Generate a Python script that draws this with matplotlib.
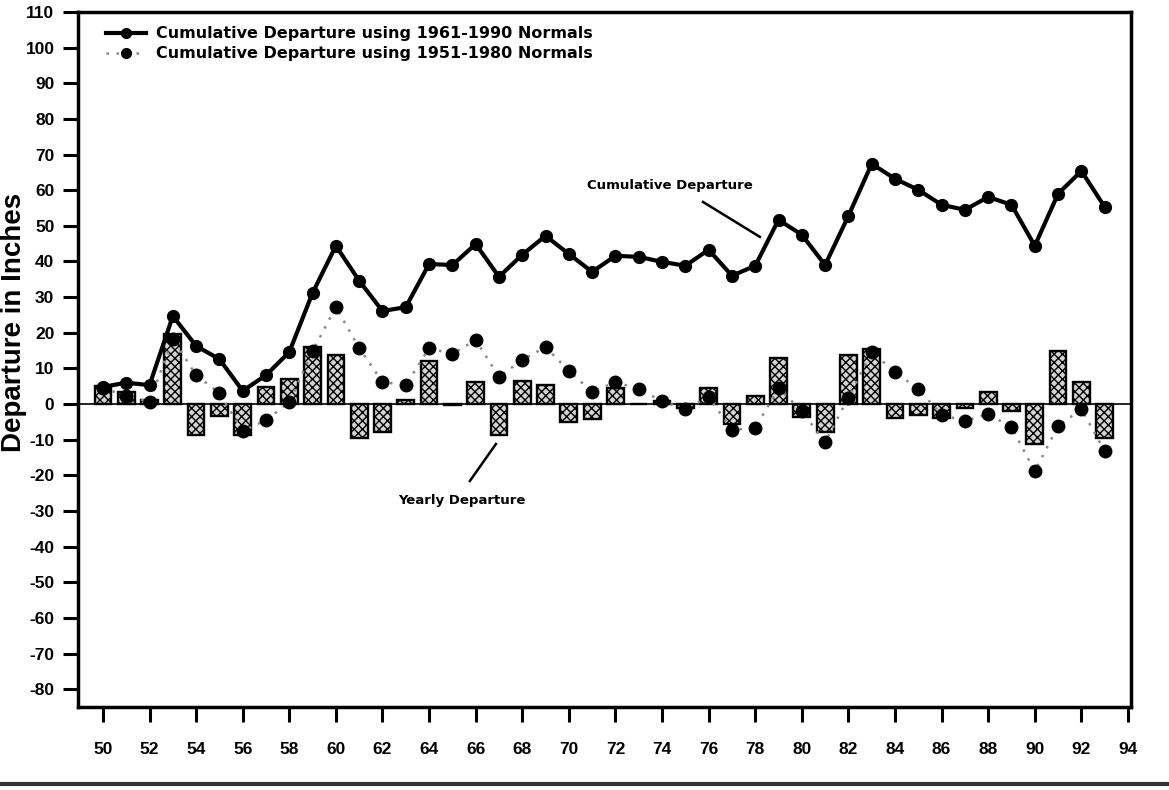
import matplotlib
matplotlib.use("Agg")
import matplotlib.pyplot as plt
from matplotlib.lines import Line2D

plt.rcParams['font.family'] = ['Liberation Sans', 'DejaVu Sans']
plt.rcParams['font.weight'] = 'bold'
plt.rcParams['hatch.linewidth'] = 1.0

years = list(range(50, 94))

cum_6190 = [4.8, 6.0, 5.3, 24.7, 16.3, 12.6, 3.7, 8.1, 14.6, 31.2,
            44.4, 34.6, 26.1, 27.2, 39.3, 39.0, 44.9, 35.7, 41.9, 47.2,
            42.1, 37.1, 41.6, 41.3, 39.9, 38.8, 43.3, 36.0, 38.8, 51.7,
            47.5, 39.0, 52.8, 67.4, 63.2, 60.1, 55.9, 54.5, 58.1, 55.9,
            44.4, 59.0, 65.4, 55.3]

cum_5180 = [4.5, 2.3, 0.6, 18.3, 8.1, 3.1, -7.6, -4.5, 0.5, 14.9,
            27.2, 15.7, 6.2, 5.3, 15.7, 14.0, 18.0, 7.6, 12.4, 16.0,
            9.3, 3.4, 6.2, 4.2, 0.8, -1.5, 2.0, -7.2, -6.7, 4.5,
            -2.0, -10.7, 1.8, 14.6, 9.0, 4.2, -3.0, -4.8, -2.8, -6.5,
            -18.8, -6.2, -1.4, -13.2]

yearly = [5.0, 3.5, 1.0, 19.7, -8.7, -3.4, -8.8, 4.8, 7.0, 16.0,
          13.8, -9.6, -7.9, 1.0, 12.0, -0.4, 6.2, -8.8, 6.4, 5.3,
          -5.1, -4.2, 4.5, 0.0, 0.8, -1.0, 4.5, -5.6, 2.2, 13.0,
          -3.6, -7.9, 13.7, 15.4, -4.0, -3.0, -4.0, -1.0, 3.4, -2.0,
          -11.2, 14.9, 6.2, -9.4]

xtick_vals = list(range(50, 95, 2))
xtick_labels = [str(v) for v in xtick_vals]
ytick_vals = list(range(-80, 111, 10))

fig = plt.figure(figsize=(11.69, 7.90), dpi=100)
ax = fig.add_axes([78 / 1169, 1 - 707 / 790, (1131 - 78) / 1169, (707 - 12) / 790])

ax.bar(years, yearly, width=0.72, facecolor='#d4d4d4', edgecolor='black',
       hatch='xxxx', linewidth=1.7, zorder=2)
ax.axhline(0, color='black', linewidth=1.2, zorder=3)

ax.plot(years, cum_5180, linestyle=(0, (1, 3)), color='#888888', linewidth=1.8,
        marker='o', markersize=9, markerfacecolor='black', markeredgecolor='black',
        zorder=4)
ax.plot(years, cum_6190, linestyle='-', color='black', linewidth=3,
        marker='o', markersize=8.5, markerfacecolor='black', markeredgecolor='black',
        zorder=5)

ax.set_xlim(48.93, 94.13)
ax.set_ylim(-85, 110)
ax.set_xticks(xtick_vals)
ax.set_xticklabels(xtick_labels)
ax.set_yticks(ytick_vals)
ax.set_yticklabels([str(v) for v in ytick_vals])
ax.tick_params(axis='both', direction='out', length=11, width=2.2,
               labelsize=12.5, pad=6)
ax.tick_params(axis='x', pad=14)
for lab in ax.get_xticklabels() + ax.get_yticklabels():
    lab.set_fontweight('bold')
for sp in ax.spines.values():
    sp.set_linewidth(2.5)

# annotations
ann_font = ['DejaVu Sans']
ax.text(74.34, 61.2, 'Cumulative Departure', fontsize=9.5, fontweight='bold',
        family=ann_font, ha='center', va='center')
ax.plot([75.76, 78.2], [56.7, 46.9], color='black', linewidth=1.8, zorder=6)
ax.text(65.41, -27.2, 'Yearly Departure', fontsize=9.5, fontweight='bold',
        family=ann_font, ha='center', va='center')
ax.plot([65.75, 66.87], [-21.6, -11.2], color='black', linewidth=1.8, zorder=6)

handles = [
    Line2D([0], [0], color='black', linewidth=3, marker='o', markersize=7,
           markevery=[0, 1]),
    Line2D([0], [0], color='#888888', linestyle=(0, (1, 3)), linewidth=1.8,
           marker='o', markersize=7, markerfacecolor='black',
           markeredgecolor='black', markevery=[0, 1]),
]
leg = ax.legend(handles, ['Cumulative Departure using 1961-1990 Normals',
                          'Cumulative Departure using 1951-1980 Normals'],
                loc='upper left', bbox_to_anchor=(0.013, 1.0), frameon=False,
                handlelength=2.5, handletextpad=0.6, labelspacing=0.3,
                prop={'size': 11.5, 'weight': 'bold', 'family': 'DejaVu Sans'})

fig.text(0.012, 1 - 322 / 790, 'Departure in Inches', rotation=90,
         fontsize=20, fontweight='bold', ha='center', va='center')

fig.add_artist(Line2D([0, 1], [1 - 784 / 790, 1 - 784 / 790],
                      transform=fig.transFigure, color='#333333', linewidth=3))

fig.savefig('out.png', dpi=100)
